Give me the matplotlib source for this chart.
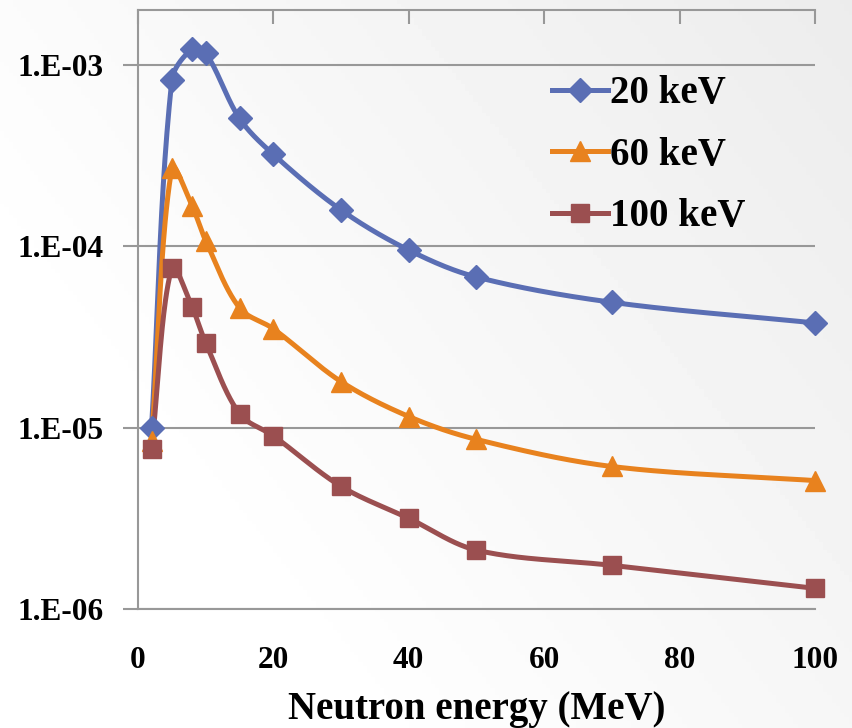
import numpy as np
import matplotlib
matplotlib.use("Agg")
import matplotlib.pyplot as plt
from matplotlib.ticker import FixedLocator, FuncFormatter

plt.rcParams['font.family'] = ['Liberation Serif', 'DejaVu Serif']
plt.rcParams['font.weight'] = 'bold'

energy = [2, 5, 8, 10, 15, 20, 30, 40, 50, 70, 100]
kev20 = [1.0e-5, 8.2e-4, 1.22e-3, 1.16e-3, 5.05e-4, 3.2e-4, 1.58e-4, 9.5e-5, 6.75e-5, 4.9e-5, 3.77e-5]
kev60 = [8.4e-6, 2.68e-4, 1.66e-4, 1.07e-4, 4.56e-5, 3.5e-5, 1.79e-5, 1.15e-5, 8.6e-6, 6.1e-6, 5.1e-6]
kev100 = [7.6e-6, 7.6e-5, 4.6e-5, 2.93e-5, 1.19e-5, 9.0e-6, 4.74e-6, 3.16e-6, 2.11e-6, 1.74e-6, 1.3e-6]
labels = ["20 keV", "60 keV", "100 keV"]
colors = ["#5A6EB4", "#E8821E", "#9B4F50"]
markers = ["D", "^", "s"]
msizes = [12.5, 14.5, 13]

W, H = 853, 728
fig = plt.figure(figsize=(W / 100, H / 100), dpi=100)

# background gradient
bg = fig.add_axes([0, 0, 1, 1], zorder=-10)
yy, xx = np.mgrid[0:1:200j, 0:1:200j]
g = np.clip(0.6 * xx + 0.4 * (1 - yy) - 0.25, 0, 1)
bg.imshow(1.0 - 0.10 * g, cmap='gray', vmin=0, vmax=1, aspect='auto',
          extent=[0, 1, 0, 1], origin='upper')
bg.axis('off')

ax = fig.add_axes([138 / W, 1 - 609 / H, (815 - 138) / W, (609 - 10) / H])
ax.patch.set_alpha(0)
ax.set_yscale('log')
ax.set_xlim(0, 100)
ax.set_ylim(1e-6, 2e-3)

fig.canvas.draw()


def smooth(xs, ys, n=40):
    # Excel-like Bezier smoothing in display space, tangents weighted by chord lengths
    pts = ax.transData.transform(np.column_stack([xs, ys]))
    P = np.vstack([pts[0], pts, pts[-1]])
    out = []
    for i in range(1, len(P) - 2):
        p0, p1, p2, p3 = P[i - 1], P[i], P[i + 1], P[i + 2]
        d01 = np.hypot(*(p1 - p0))
        d12 = np.hypot(*(p2 - p1))
        d23 = np.hypot(*(p3 - p2))
        w1 = d12 / (d01 + d12) if d01 + d12 > 0 else 0.5
        w2 = d12 / (d12 + d23) if d12 + d23 > 0 else 0.5
        c1 = p1 + (p2 - p0) * w1 / 3.0
        c2 = p2 - (p3 - p1) * w2 / 3.0
        t = np.linspace(0, 1, n)[:, None]
        seg = ((1 - t) ** 3) * p1 + 3 * ((1 - t) ** 2) * t * c1 + 3 * (1 - t) * t ** 2 * c2 + t ** 3 * p2
        out.append(seg if i == 1 else seg[1:])
    out = np.vstack(out)
    d = ax.transData.inverted().transform(out)
    return d[:, 0], d[:, 1]


for ys, lab, c, m, ms in zip([kev20, kev60, kev100], labels, colors, markers, msizes):
    sx, sy = smooth(energy, ys)
    ax.plot(sx, sy, color=c, lw=3.6, solid_capstyle='round', zorder=3, clip_on=False)
    ax.plot(energy, ys, ls='none', marker=m, ms=ms, color=c, zorder=4, clip_on=False)
    ax.plot([], [], color=c, lw=3.6, marker=m, ms=ms, label=lab)

gray = '#989898'
ax.yaxis.set_major_locator(FixedLocator([1e-6, 1e-5, 1e-4, 1e-3]))
ax.yaxis.set_minor_locator(FixedLocator([]))
ax.yaxis.set_major_formatter(FuncFormatter(lambda v, p: "1.E-%02d" % int(round(-np.log10(v)))))
ax.set_xticks([0, 20, 40, 60, 80, 100])
ax.grid(axis='y', color=gray, lw=1.5)
ax.set_axisbelow(True)

for s in ['left', 'top', 'bottom']:
    ax.spines[s].set_color(gray)
    ax.spines[s].set_linewidth(1.5)
ax.spines['right'].set_visible(False)

ax.tick_params(axis='y', direction='out', length=11, width=1.5, color=gray,
               labelsize=22.5, pad=14)
ax.tick_params(axis='x', bottom=False, top=True, direction='in', length=10,
               width=1.5, color=gray, labelsize=22.5, labelbottom=True, pad=27)
for t in ax.get_xticklabels() + ax.get_yticklabels():
    t.set_fontweight('bold')

ax.set_xlabel("Neutron energy (MeV)", fontsize=28, fontweight='bold', labelpad=11)

leg = ax.legend(loc='upper left', bbox_to_anchor=(0.588, 0.917), frameon=False,
                fontsize=28, handlelength=1.45, handletextpad=0.05, labelspacing=0.63,
                borderaxespad=0)
for t in leg.get_texts():
    t.set_fontweight('bold')

fig.savefig("out.png", dpi=100)
